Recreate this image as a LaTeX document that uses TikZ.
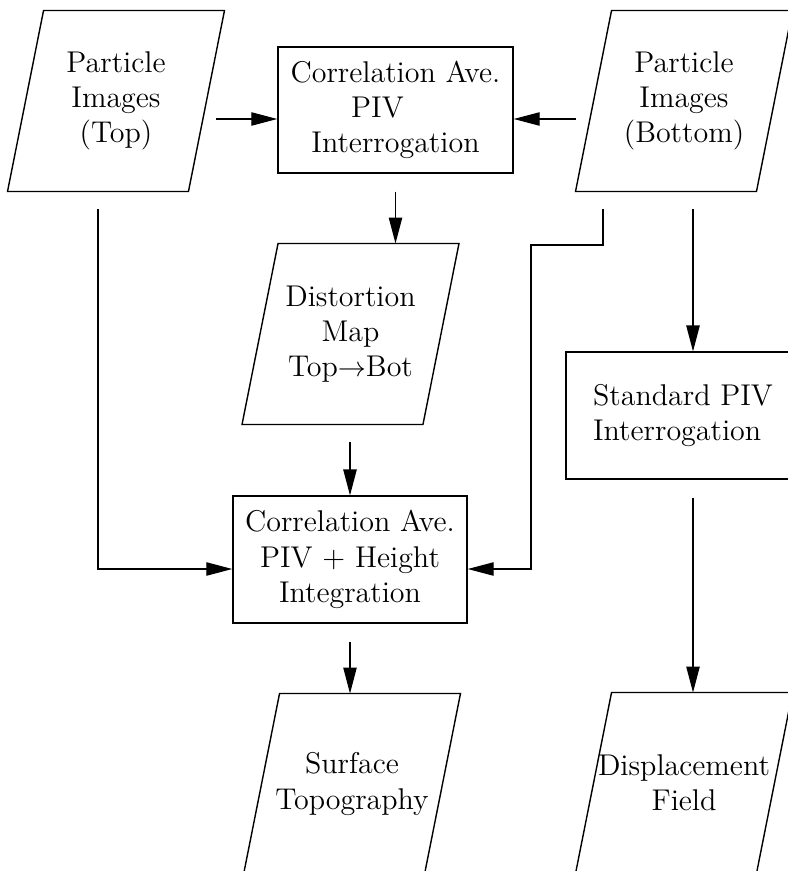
\documentclass[tikz,border=0pt]{standalone}
\usepackage{tikz}
\usetikzlibrary{positioning,arrows.meta}

\tikzset{
    txt/.style={align=center, font=\fontsize{12.8pt}{15pt}\selectfont},
    box/.style={txt, rectangle, draw, line width=0.6pt, minimum width=3.51cm, minimum height=1.9cm},
    data/.style={txt, rectangle, inner xsep=0pt, minimum width=2.7cm, minimum height=2.7cm},
    slant/.style={line width=0.6pt},
    arr/.style={-{Triangle[length=0.39cm, width=0.2cm]}, line width=0.6pt, shorten <=0.27cm}
}

\begin{document}
\begin{tikzpicture}[x=0.015cm, y=-0.015cm]
        \useasboundingbox (0, 0) rectangle (787, 871);

        \node[data] (topNode) at (116, 101) {Particle\\Images\\(Top)};
        \node[data] (botNode) at (684, 101) {Particle\\Images\\(Bottom)};
        \node[box, minimum width=3.525cm, minimum height=1.89cm] (corrNode) at (395.5, 110) {Correlation Ave.\\PIV\rule{1.2em}{0pt}\\Interrogation};
        \node[data] (distNode) at (350.5, 334) {Distortion\\Map\\Top$\rightarrow$Bot};
        \node[box] (heightNode) at (350, 559.5) {Correlation Ave.\\PIV + Height\\Integration};
        \node[data] (surfNode) at (352, 784) {Surface\\Topography};
        \node[box, align=left] (stdNode) at (683, 415.5) {Standard PIV\\Interrogation};
        \node[data] (dispNode) at (684, 783) {Displacement\\Field};

        \foreach \n in {topNode, botNode, distNode, surfNode, dispNode}
            \draw[slant] ([xshift=-0.27cm]\n.south west) -- ([xshift=-0.27cm]\n.south east)
                -- ([xshift=0.27cm]\n.north east) -- ([xshift=0.27cm]\n.north west) -- cycle;

        \coordinate (upRow) at (0, 119);
        \coordinate (lowRow) at (0, 569);
        \coordinate (rightCol) at (693, 0);
        \coordinate (jogA) at (603, 245);
        \coordinate (jogB) at (531, 245);

        \draw[arr, shorten <=0.15cm] (topNode.east |- upRow) -- (corrNode.west |- upRow);
        \draw[arr] (botNode.west |- upRow) -- (corrNode.east |- upRow);
        \draw[arr] (corrNode.south) -- (corrNode.south |- distNode.north);
        \draw[arr] (heightNode.north |- distNode.south) -- (heightNode.north);
        \draw[arr] (heightNode.south) -- (heightNode.south |- surfNode.north);
        \draw[arr] ([xshift=-0.27cm]topNode.south) |- (heightNode.west |- lowRow);
        \draw[arr] (jogA |- botNode.south) -- (jogA) -- (jogB) |- (heightNode.east |- lowRow);
        \draw[arr] (rightCol |- botNode.south) -- (rightCol |- stdNode.north);
        \draw[arr] (rightCol |- stdNode.south) -- (rightCol |- dispNode.north);
\end{tikzpicture}
\end{document}
